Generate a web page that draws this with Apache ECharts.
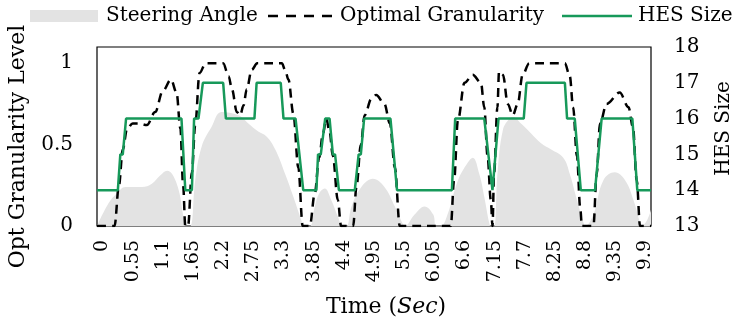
<!DOCTYPE html>
<html><head><meta charset="utf-8">
<script src="https://cdn.jsdelivr.net/npm/echarts@6/dist/echarts.min.js"></script>
<style>html,body{margin:0;padding:0;background:#fff}#c{width:734px;height:327px}</style>
</head><body><div id="c"></div>
<script>
const xTickLabels = [0,0.55,1.1,1.65,2.2,2.75,3.3,3.85,4.4,4.95,5.5,6.05,6.6,7.15,7.7,8.25,8.8,9.35,9.9];
const leftTicks = [0,0.5,1];
const seriesNames = ['Steering Angle','Optimal Granularity','HES Size'];

const steerT = [-0.1,0.11,0.26,0.42,0.72,0.90,1.05,1.18,1.27,1.39,1.48,1.52,1.60,1.69,1.81,1.99,2.17,2.48,2.66,2.84,2.99,3.15,3.33,3.48,3.63,3.66,3.78,3.87,3.95,4.05,4.17,4.29,4.38,4.45,4.54,4.72,4.93,5.14,5.33,5.48,5.51,5.69,5.87,6.03,6.08,6.17,6.29,6.48,6.66,6.75,6.87,6.96,7.05,7.08,7.14,7.20,7.30,7.42,7.48,7.63,7.81,7.99,8.18,8.40,8.52,8.65,8.77,8.80,8.95,9.13,9.34,9.53,9.68,9.80,9.83,9.92,10.0];
const steerV = [0,0.14,0.20,0.24,0.24,0.26,0.31,0.34,0.32,0.22,0.05,0,0,0.28,0.49,0.61,0.70,0.68,0.63,0.58,0.55,0.47,0.32,0.18,0.03,0,0,0.12,0.20,0.23,0.16,0.06,0,0,0.12,0.24,0.29,0.24,0.12,0.01,0,0.07,0.12,0.07,0,0,0.07,0.28,0.39,0.42,0.32,0.18,0.02,0,0,0.32,0.59,0.66,0.67,0.63,0.57,0.51,0.47,0.42,0.32,0.16,0.02,0,0.07,0.28,0.33,0.28,0.16,0.02,0,0.03,0.10];

const optT = [-0.1,0.22,0.30,0.37,0.45,0.55,0.66,0.81,0.96,1.10,1.25,1.35,1.42,1.47,1.51,1.56,1.63,1.69,1.77,1.88,2.20,2.30,2.36,2.45,2.51,2.57,2.63,2.72,2.82,3.27,3.33,3.39,3.48,3.57,3.65,3.78,3.87,3.95,4.02,4.08,4.14,4.20,4.29,4.35,4.57,4.63,4.71,4.78,4.90,4.99,5.14,5.24,5.33,5.42,6.35,6.41,6.48,6.60,6.75,6.90,6.96,7.02,7.08,7.11,7.14,7.20,7.23,7.30,7.39,7.48,7.57,7.66,7.78,8.43,8.52,8.58,8.65,8.71,8.74,8.95,9.01,9.07,9.19,9.43,9.59,9.67,9.74,9.80,10.0];
const optV = [0,0,0.25,0.47,0.60,0.63,0.63,0.62,0.70,0.83,0.90,0.82,0.60,0.25,0,0,0.33,0.62,0.94,1.0,1.0,0.92,0.84,0.70,0.68,0.74,0.84,0.96,1.0,1.0,0.96,0.90,0.69,0.36,0,0,0.20,0.42,0.57,0.66,0.58,0.43,0.16,0,0,0.24,0.50,0.68,0.78,0.805,0.75,0.63,0.36,0,0,0.28,0.65,0.88,0.93,0.88,0.73,0.43,0.16,0,0.33,0.73,0.95,0.93,0.75,0.68,0.75,0.93,1.0,1.0,0.92,0.73,0.43,0.11,0,0,0.32,0.63,0.75,0.82,0.73,0.61,0.28,0,0];

const hesT = [-0.1,0.28,0.325,0.37,0.43,1.44,1.51,1.63,1.67,1.75,1.83,2.20,2.25,2.77,2.81,3.25,3.30,3.52,3.66,3.90,3.93,3.98,4.06,4.14,4.20,4.24,4.31,4.60,4.67,4.71,4.77,5.25,5.37,6.37,6.43,6.96,7.11,7.22,7.68,7.73,8.43,8.47,8.61,8.72,8.98,9.10,9.66,9.75,10.0];
const hesV = [14,14,15,15,16,16,14,14,16,16,17,17,16,16,17,17,16,16,14,14,15,15,16,16,15,15,14,14,15,15,16,16,14,14,16,16,14,16,16,17,17,16,16,14,14,16,16,14,14];

const zip = (a,b) => a.map((t,i) => [t,b[i]]);
const FONT = 'DejaVu Serif';
const GREEN = '#17995a';
const GRAY = '#e3e3e3';
const LEG_FS = 20;
const chart = echarts.init(document.getElementById('c'), null, {renderer:'canvas'});
chart.setOption({
  animation:false,
  textStyle:{fontFamily:FONT,color:'#000'},
  graphic:[
    {type:'rect',shape:{x:30,y:10,width:68,height:12},style:{fill:GRAY},silent:true},
    {type:'text',x:106,y:16,style:{text:seriesNames[0],font:LEG_FS+'px "DejaVu Serif"',fill:'#000',verticalAlign:'middle'},silent:true},
    {type:'line',shape:{x1:268,y1:16,x2:334,y2:16},style:{stroke:'#000',lineWidth:2.5,lineDash:[10,8]},silent:true},
    {type:'text',x:340,y:16,style:{text:seriesNames[1],font:LEG_FS+'px "DejaVu Serif"',fill:'#000',verticalAlign:'middle'},silent:true},
    {type:'line',shape:{x1:562,y1:16,x2:632,y2:16},style:{stroke:GREEN,lineWidth:2.5},silent:true},
    {type:'text',x:638,y:16,style:{text:seriesNames[2],font:LEG_FS+'px "DejaVu Serif"',fill:'#000',verticalAlign:'middle'},silent:true}
  ],
  grid:{left:97,right:83,top:47,bottom:101,show:true,borderColor:'#000',borderWidth:1.2,containLabel:false,outerBoundsMode:'none'},
  xAxis:{
    type:'value',min:-0.1,max:10.0,
    axisLine:{show:false},axisTick:{show:false},splitLine:{show:false},
    axisLabel:{customValues:xTickLabels,rotate:90,fontSize:19,margin:14,color:'#000',fontFamily:FONT},
    name:'{a|Time (}{b|Sec}{a|)}',nameLocation:'middle',nameGap:70,
    nameTextStyle:{padding:[0,0,0,24],rich:{a:{fontSize:22,fontFamily:FONT,color:'#000'},b:{fontSize:22,fontFamily:FONT,fontStyle:'italic',color:'#000'}}}
  },
  yAxis:[
    {type:'value',min:0,max:1.1,
     axisLine:{show:false},axisTick:{show:false},splitLine:{show:false},
     axisLabel:{customValues:leftTicks,fontSize:20,margin:24,color:'#000',fontFamily:FONT},
     name:'Opt Granularity Level',nameLocation:'middle',nameGap:68,nameRotate:90,
     nameTextStyle:{fontSize:22,fontFamily:FONT,color:'#000',padding:[0,20,0,0]}},
    {type:'value',min:13,max:18,interval:1,position:'right',
     axisLine:{show:false},axisTick:{show:false},splitLine:{show:false},
     axisLabel:{fontSize:20,margin:23,color:'#000',fontFamily:FONT},
     name:'HES Size',nameLocation:'middle',nameGap:63,nameRotate:90,
     nameTextStyle:{fontSize:20,fontFamily:FONT,color:'#000',padding:[0,0,0,16]}}
  ],
  series:[
    {name:seriesNames[0],type:'line',yAxisIndex:0,data:zip(steerT,steerV),smooth:0.4,showSymbol:false,symbol:'none',
     lineStyle:{width:0,color:GRAY},itemStyle:{color:GRAY},areaStyle:{color:GRAY,opacity:1},z:1},
    {name:seriesNames[1],type:'line',yAxisIndex:0,data:zip(optT,optV),smooth:0.35,smoothMonotone:'x',showSymbol:false,symbol:'none',
     lineStyle:{width:2.5,color:'#000',type:[9,6]},itemStyle:{color:'#000'},z:3},
    {name:seriesNames[2],type:'line',yAxisIndex:1,data:zip(hesT,hesV),showSymbol:false,symbol:'none',
     lineStyle:{width:2.5,color:GREEN},itemStyle:{color:GREEN},z:4}
  ]
});
</script></body></html>
